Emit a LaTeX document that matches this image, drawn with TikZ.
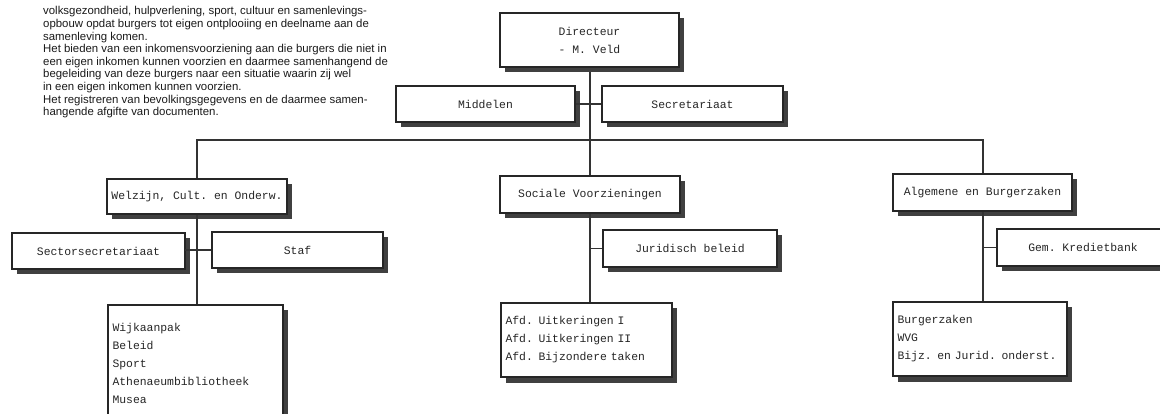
\documentclass[tikz,border=0pt]{standalone}
\usepackage{fontspec}
\setmainfont{Liberation Sans}
\setmonofont{Liberation Mono}
\tikzset{
  orgbox/.style={draw=black!85, line width=1.4pt, fill=white, inner sep=0pt,
    align=center, text=black!85,
    font=\ttfamily\fontsize{11.4}{18}\selectfont},
  listbox/.style={orgbox, align=left},
  boxshadow/.style={fill=black!75},
  link/.style={draw=black!80, line width=1.5pt},
  desc/.style={anchor=north west, inner sep=0pt, align=left, text=black!90,
    font=\fontsize{11.4}{12.6}\selectfont},
}
% #1 name, #2 x, #3 y, #4 width, #5 height, #6 extra options, #7 text
\newcommand{\orgunit}[7]{%
  \fill[boxshadow] ({#2-#4/2+5},{#3-#5/2+5.5}) rectangle ({#2+#4/2+5},{#3+#5/2+5.5});
  \node[orgbox, minimum width=#4pt, minimum height=#5pt, #6] (#1) at (#2,#3) {#7};%
}
\begin{document}
\begin{tikzpicture}[x=1pt, y=-1pt]
\useasboundingbox (0,0) rectangle (1160,414);

% description text
\node[desc] (txt) at (43,6.4) {volksgezondheid, hulpverlening, sport, cultuur en samenlevings-\\
opbouw opdat burgers tot eigen ontplooiing en deelname aan de\\
samenleving komen.\\
Het bieden van een inkomensvoorziening aan die burgers die niet in\\
een eigen inkomen kunnen voorzien en daarmee samenhangend de\\
begeleiding van deze burgers naar een situatie waarin zij wel\\
in een eigen inkomen kunnen voorzien.\\
Het registreren van bevolkingsgegevens en de daarmee samen-\\
hangende afgifte van documenten.};

% bus and trunk coordinates
\coordinate (bus) at (590,140);
\coordinate (dirS) at (590,67);
\coordinate (svzN) at (590,176);
\coordinate (wcuN) at (197,179);
\coordinate (algN) at (983,174);

% connectors drawn first, boxes on top
\draw[link] (dirS) -- (svzN);
\draw[link] (wcuN) |- (bus) -| (algN);

% top level
\orgunit{dir}{589.5}{40}{179}{54}{}{Directeur\\- M. Veld}
\orgunit{mid}{485.5}{104}{179}{36}{}{Middelen}
\orgunit{sec}{692.5}{104}{181}{36}{}{Secretariaat}
\draw[link] (mid.east) -- (sec.west);

% left branch
\orgunit{wcu}{197}{196.5}{180}{35}{}{Welzijn, Cult. en Onderw.}
\orgunit{ssec}{98.5}{251}{173}{36}{}{Sectorsecretariaat}
\orgunit{staf}{297.5}{250}{171}{36}{}{Staf}
\orgunit{wbot}{195.5}{363}{175}{116}{listbox, text width=166pt}{Wijkaanpak\\Beleid\\Sport\\Athenaeumbibliotheek\\Musea}
\draw[link] (ssec.east) -- (staf.west -| ssec.east) -- (staf.west);
\draw[link] (wcu.south) -- (wcu.south |- wbot.north);

% middle branch
\orgunit{svz}{590}{194.5}{180}{37}{}{Sociale Voorzieningen}
\orgunit{jur}{690}{248.5}{174}{37}{}{Juridisch beleid}
\orgunit{sbot}{586.5}{340}{171}{74}{listbox, text width=162pt}{Afd. Uitkeringen I\\Afd. Uitkeringen II\\Afd. Bijzondere taken}
\draw[link] (svz.south -| dirS) -- (sbot.north -| dirS);
\draw[link] (jur.west) -- (jur.west -| dirS);

% right branch
\orgunit{alg}{982.5}{192.5}{179}{37}{}{Algemene en Burgerzaken}
\orgunit{gem}{1083}{247.5}{172}{37}{}{Gem. Kredietbank}
\orgunit{abot}{980}{339}{174}{74}{listbox, text width=165pt}{Burgerzaken\\WVG\\Bijz. en Jurid. onderst.}
\draw[link] (alg.south -| algN) -- (abot.north -| algN);
\draw[link] (gem.west) -- (gem.west -| algN);
\end{tikzpicture}
\end{document}
